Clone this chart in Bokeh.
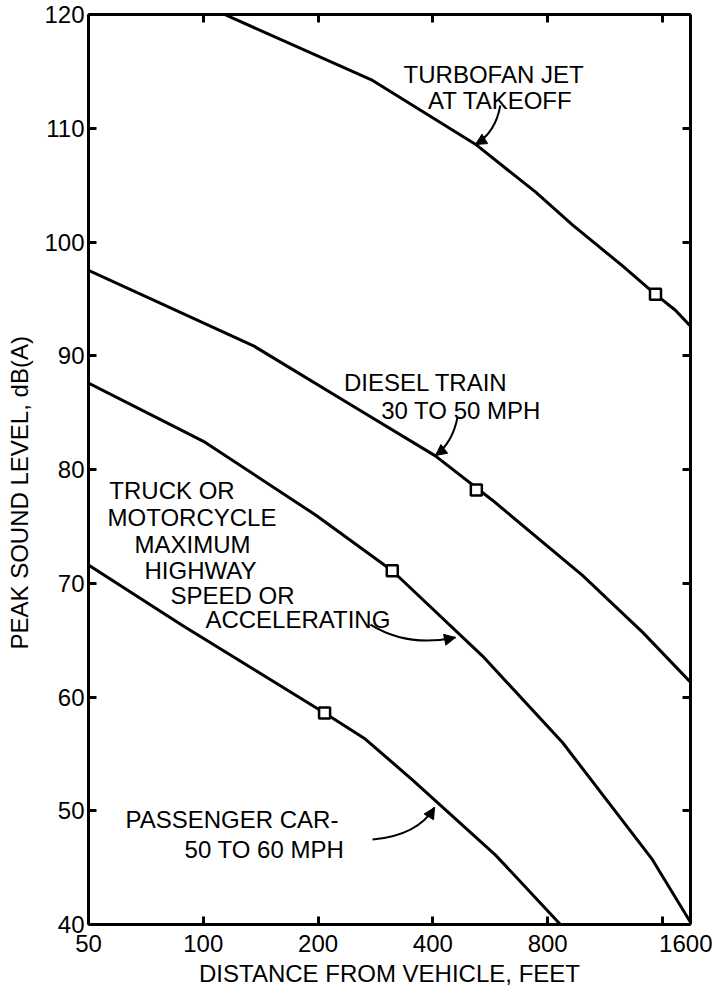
import math
from bokeh.plotting import figure
from bokeh.models import (FixedTicker, LinearAxis, LogAxis, Label, Arrow,
                          NormalHead, NumeralTickFormatter, Range1d)
from bokeh.embed import file_html
from bokeh.resources import INLINE

# ---------------- data ----------------
x_ticks = [50, 100, 200, 400, 800, 1600]
y_ticks = [40, 50, 60, 70, 80, 90, 100, 110, 120]

jet_dist = [113.7, 278, 517, 743, 929, 1257, 1534, 1730, 1895]
jet_db = [120.0, 114.2, 108.6, 104.4, 101.5, 97.9, 95.4, 94.0, 92.6]

train_dist = [50, 135, 246, 406, 573, 987, 1418, 1895]
train_db = [97.5, 90.9, 85.6, 81.2, 77.3, 70.7, 65.7, 61.3]

truck_dist = [50, 101, 197, 313, 540, 875, 1506, 1895]
truck_db = [87.6, 82.4, 76.0, 71.1, 63.6, 56.0, 45.7, 40.2]

car_dist = [50, 88, 208, 266, 354, 584, 864]
car_db = [71.6, 66.3, 58.6, 56.3, 52.7, 46.1, 40.0]

marker_dist = [1534, 520, 313, 208]
marker_db = [95.4, 78.2, 71.1, 58.6]

FONT = "Liberation Sans"
FS = "24px"
NBSP = "\u00a0"

p = figure(width=712, height=990, x_axis_type="log",
           x_range=Range1d(50, 1895), y_range=Range1d(40, 120),
           output_backend="svg", toolbar_location=None,
           min_border_left=88, min_border_right=22,
           min_border_top=14, min_border_bottom=66)
p.grid.visible = False
p.outline_line_color = None
p.background_fill_color = "white"
p.border_fill_color = "white"

bottom = p.below[0]
left = p.left[0]
top = LogAxis()
right = LinearAxis()
p.add_layout(top, "above")
p.add_layout(right, "right")

for ax in [bottom, top]:
    ax.ticker = FixedTicker(ticks=x_ticks)
for ax in [left, right]:
    ax.ticker = FixedTicker(ticks=y_ticks)

for ax in [bottom, left, top, right]:
    ax.axis_line_width = 3
    ax.axis_line_color = "black"
    ax.major_tick_in = 8
    ax.major_tick_out = 0
    ax.major_tick_line_width = 3
    ax.major_tick_line_color = "black"
    ax.minor_tick_line_color = None
    ax.major_label_text_font = FONT
    ax.major_label_text_font_size = FS
    ax.major_label_text_color = "black"
    ax.axis_label_text_font = FONT
    ax.axis_label_text_font_size = FS
    ax.axis_label_text_font_style = "normal"
    ax.axis_label_text_color = "black"

for ax in [top, right]:
    ax.major_label_text_font_size = "0px"
    ax.major_label_text_color = None
    ax.major_label_standoff = 0

bottom.formatter = NumeralTickFormatter(format="0")
bottom.major_label_overrides = {1600: NBSP * 7 + "1600"}
bottom.major_label_standoff = 5
bottom.axis_label = "DISTANCE FROM VEHICLE, FEET"
bottom.axis_label_standoff = 0

left.major_label_standoff = 4
left.axis_label = "PEAK SOUND LEVEL, dB(A)" + NBSP * 7
left.axis_label_standoff = 8

# curves
for xs, ys in [(jet_dist, jet_db), (train_dist, train_db),
               (truck_dist, truck_db), (car_dist, car_db)]:
    p.line(xs, ys, line_color="black", line_width=3, line_join="round")

p.scatter(marker_dist, marker_db, marker="square", size=11,
          fill_color="white", line_color="black", line_width=2.5)


def txt(x, y, s, align="left"):
    p.add_layout(Label(x=x, y=y, text=s, text_align=align,
                       text_baseline="alphabetic", text_font=FONT,
                       text_font_size=FS, text_color="black"))


txt(577, 114.73, "TURBOFAN JET", "center")
txt(601, 112.4, "AT TAKEOFF", "center")

txt(383.7, 87.65, "DIESEL TRAIN", "center")
txt(474, 85.19, "30 TO 50 MPH", "center")

txt(56.7, 78.15, "TRUCK OR")
txt(56.1, 75.78, "MOTORCYCLE")
txt(66.0, 73.41, "MAXIMUM")
txt(70.1, 71.12, "HIGHWAY")
txt(82.0, 68.92, "SPEED OR")
txt(101.3, 66.81, "ACCELERATING")

txt(62.5, 49.23, "PASSENGER CAR-")
txt(89.3, 46.59, "50 TO 60 MPH")

# callout arrows: (start, control, tip)
arrows = [
    ((601, 112.0), (583.8, 109.63), (517, 108.57)),
    ((464, 84.57), (450.3, 82.37), (406.4, 81.23)),
    ((274.4, 66.37), (343.2, 64.35), (458.5, 65.23)),
    ((277.8, 47.47), (364.5, 47.82), (404, 50.29)),
]
for (sx, sy), (cx, cy), (tx, ty) in arrows:
    p.quadratic(x0=[sx], y0=[sy], x1=[tx], y1=[ty], cx=[cx], cy=[cy],
                line_color="black", line_width=2)
    p.add_layout(Arrow(x_start=cx, y_start=cy, x_end=tx, y_end=ty,
                       line_color=None,
                       end=NormalHead(size=11, fill_color="black",
                                      line_color="black", line_width=1)))

open("out.html", "w").write(file_html(p, INLINE))
